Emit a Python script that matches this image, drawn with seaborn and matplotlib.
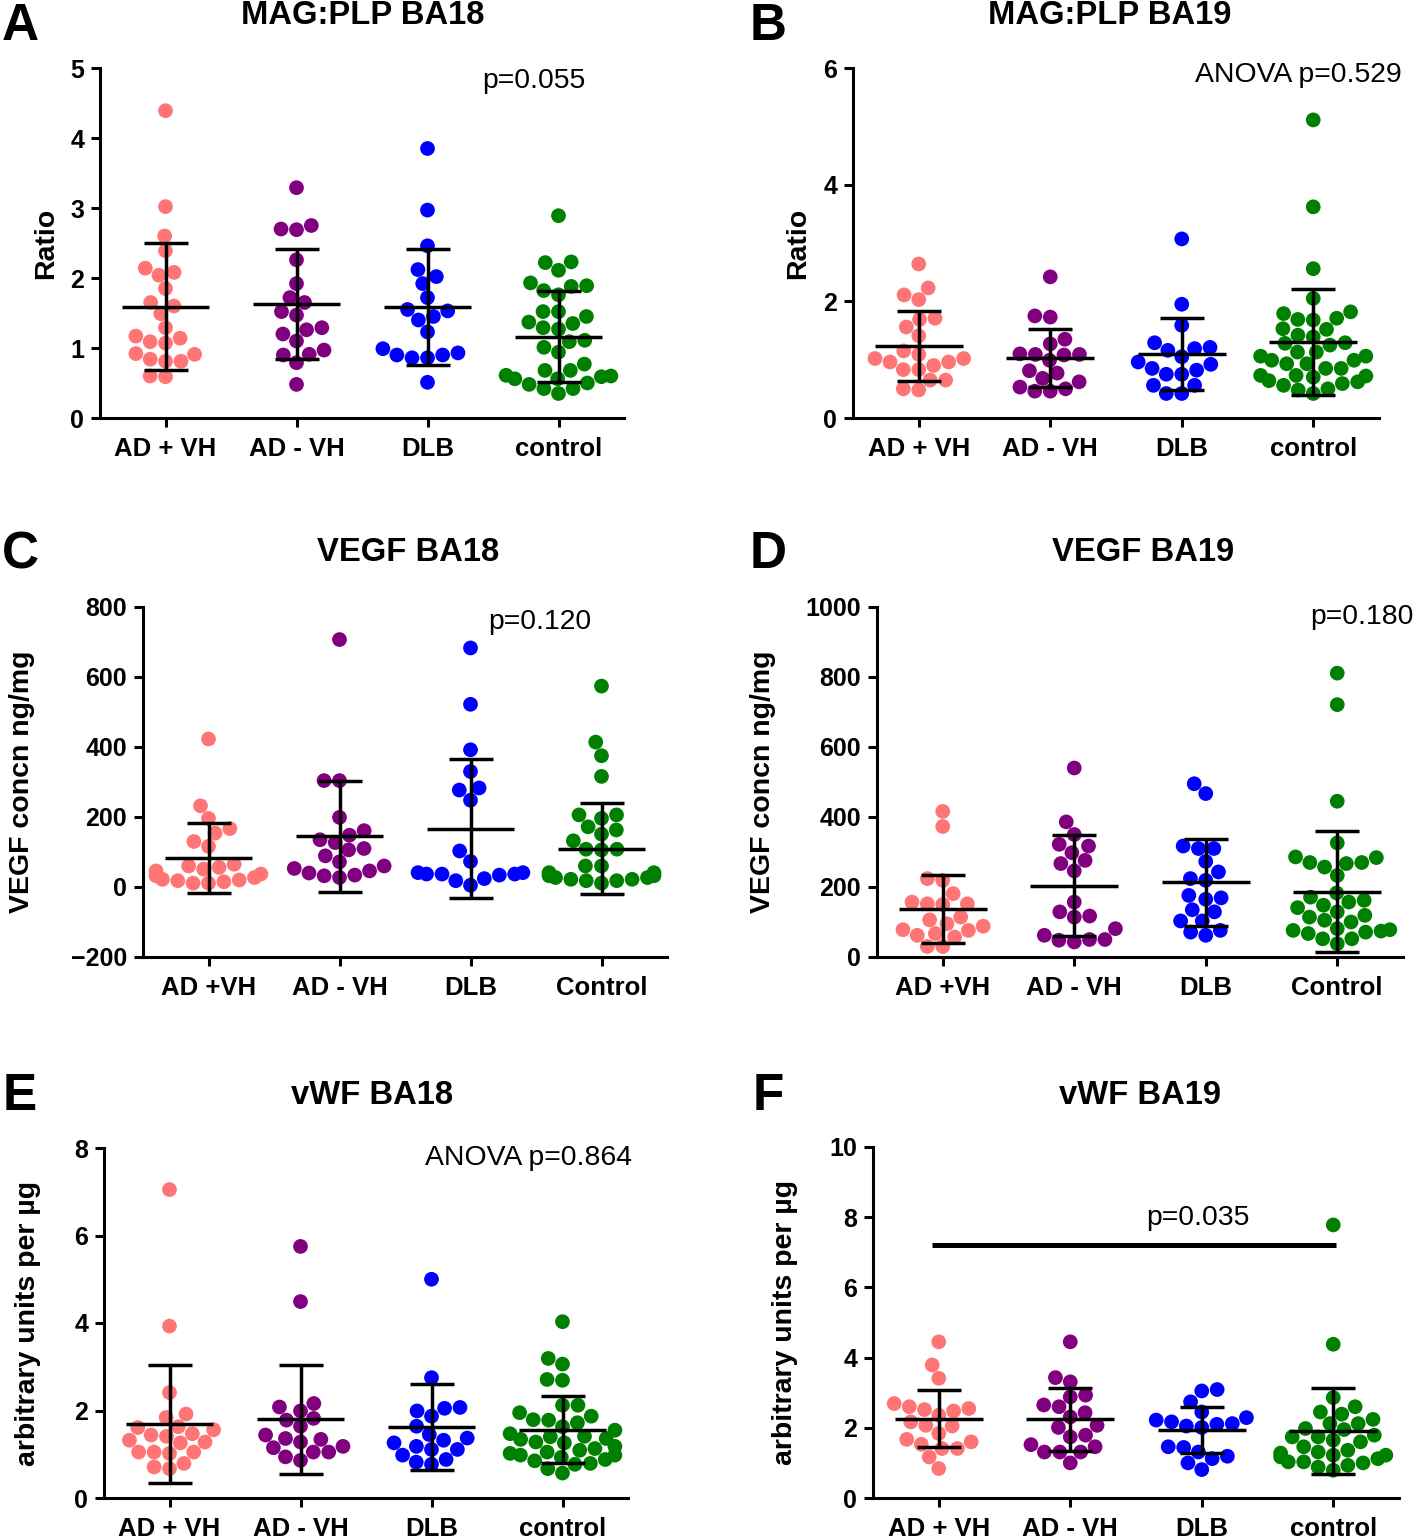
import warnings
import pandas as pd
import matplotlib
matplotlib.use("Agg")
import matplotlib.pyplot as plt
import seaborn as sns

warnings.filterwarnings("ignore")

W, H = 1418, 1539

COLORS = ["#FF7575", "#800080", "#0000FF", "#008000"]
LABELS_A = ["AD + VH", "AD - VH", "DLB", "control"]
LABELS_C = ["AD +VH", "AD - VH", "DLB", "Control"]

# A: MAG:PLP BA18
mag18_advh = [4.39, 3.02, 2.60, 2.39, 2.14, 2.04, 2.08, 1.85, 1.65, 1.60, 1.49, 1.29,
              1.17, 1.09, 1.07, 1.14, 0.92, 0.91, 0.84, 0.81, 0.81, 0.59, 0.60]
mag18_adnovh = [3.29, 2.75, 2.69, 2.70, 2.26, 1.92, 1.72, 1.65, 1.52, 1.47, 1.29, 1.26,
                1.20, 1.10, 0.97, 0.90, 0.91, 0.79, 0.48]
mag18_dlb = [3.85, 2.97, 2.46, 2.12, 2.02, 1.92, 1.72, 1.55, 1.53, 1.45, 1.40, 1.23,
             0.99, 0.90, 0.86, 0.86, 0.90, 0.93, 0.51]
mag18_ctrl = [2.89, 2.22, 2.23, 2.11, 1.93, 1.88, 1.89, 1.82, 1.76, 1.52, 1.52, 1.45,
              1.37, 1.35, 1.29, 1.27, 1.11, 1.09, 1.01, 0.94, 0.77, 0.68, 0.68, 0.61,
              0.60, 0.59, 0.56, 0.56, 0.50, 0.48, 0.42, 0.42, 0.35]
mag18_mean = [1.59, 1.625, 1.59, 1.16]
mag18_sd = [0.91, 0.785, 0.83, 0.65]

# B: MAG:PLP BA19
mag19_advh = [2.64, 2.23, 2.11, 2.03, 1.69, 1.71, 1.56, 1.41, 1.09, 1.15, 1.02, 1.02,
              0.96, 0.96, 0.90, 0.83, 0.83, 0.65, 0.65, 0.50, 0.48]
mag19_adnovh = [2.42, 1.75, 1.73, 1.35, 1.27, 1.09, 1.09, 1.10, 1.08, 0.99, 0.77, 0.81,
                0.68, 0.62, 0.53, 0.50, 0.46, 0.46]
mag19_dlb = [3.07, 1.95, 1.59, 1.29, 1.21, 1.19, 1.16, 1.05, 0.96, 0.92, 0.85, 0.82,
             0.75, 0.75, 0.56, 0.56, 0.42, 0.42]
mag19_ctrl = [5.11, 3.62, 2.56, 2.05, 1.79, 1.69, 1.68, 1.71, 1.82, 1.52, 1.53, 1.39,
              1.42, 1.28, 1.29, 1.25, 1.13, 1.13, 1.06, 1.06, 0.99, 0.99, 0.93, 0.93,
              0.85, 0.85, 0.73, 0.73, 0.72, 0.70, 0.64, 0.62, 0.59, 0.56, 0.50, 0.48, 0.42]
mag19_mean = [1.235, 1.03, 1.095, 1.31]
mag19_sd = [0.595, 0.50, 0.615, 0.91]

# C: VEGF BA18
vegf18_advh = [423, 232, 196, 167, 154, 130, 116, 60, 65, 51, 56, 37, 22, 18, 20, 32,
               11, 11, 46, 27, 15]
vegf18_adnovh = [707, 304, 304, 199, 161, 148, 135, 127, 110, 106, 89, 72, 60, 53, 46,
                 40, 34, 32, 27]
vegf18_dlb = [683, 522, 392, 330, 283, 277, 248, 103, 73, 41, 34, 41, 37, 37, 37, 24,
              5, 18]
vegf18_ctrl = [574, 414, 375, 316, 206, 206, 196, 172, 163, 151, 132, 106, 108, 108,
               60, 60, 41, 41, 37, 37, 32, 32, 22, 22, 18, 18, 11, 27, 27]
vegf18_mean = [83.5, 145.5, 167, 109.5]
vegf18_sd = [99.5, 158.5, 199, 130.5]

# D: VEGF BA19
vegf19_advh = [416, 373, 224, 219, 181, 157, 152, 152, 150, 114, 106, 95, 88, 78, 76,
               67, 62, 57, 30, 30]
vegf19_adnovh = [540, 386, 350, 322, 317, 298, 276, 267, 246, 157, 129, 117, 114, 81,
                 62, 50, 43, 48, 50]
vegf19_dlb = [495, 467, 317, 310, 310, 273, 243, 224, 219, 176, 169, 165, 135, 129,
              103, 103, 76, 71, 62]
vegf19_ctrl = [811, 721, 445, 326, 284, 270, 257, 267, 270, 286, 233, 183, 171, 157,
               162, 148, 141, 129, 119, 114, 105, 100, 81, 78, 76, 74, 71, 67, 52, 52, 38]
vegf19_mean = [138, 203.5, 213.5, 186.5]
vegf19_sd = [97, 144.5, 124.5, 172.5]

# E: vWF BA18
vwf18_advh = [7.05, 3.93, 2.41, 1.92, 1.84, 1.63, 1.61, 1.56, 1.47, 1.44, 1.41, 1.32,
              1.28, 1.26, 1.05, 1.05, 1.05, 1.02, 0.79, 0.71, 0.67]
vwf18_adnovh = [5.75, 4.49, 2.16, 2.08, 1.99, 1.78, 1.82, 1.64, 1.44, 1.36, 1.34, 1.28,
                1.18, 1.15, 1.05, 1.05, 0.94, 0.86]
vwf18_dlb = [5.00, 2.75, 2.05, 2.07, 1.99, 1.87, 1.64, 1.45, 1.37, 1.32, 1.26, 1.18,
             1.11, 1.11, 0.98, 0.88, 0.82, 0.77]
vwf18_ctrl = [4.03, 3.19, 3.06, 2.69, 2.71, 2.12, 2.12, 1.95, 1.87, 1.78, 1.79, 1.72,
              1.63, 1.55, 1.41, 1.40, 1.36, 1.34, 1.28, 1.26, 1.13, 1.05, 1.02, 0.98,
              0.98, 0.88, 0.85, 0.79, 0.77, 0.67, 0.57, 1.47, 1.18, 0.93, 1.09]
vwf18_mean = [1.695, 1.805, 1.625, 1.56]
vwf18_sd = [1.345, 1.245, 0.975, 0.77]

# F: vWF BA19
vwf19_advh = [4.45, 3.79, 3.41, 2.69, 2.60, 2.55, 2.52, 2.48, 2.36, 2.17, 2.05, 2.07,
              1.84, 1.67, 1.60, 1.53, 1.41, 1.41, 1.17, 0.84]
vwf19_adnovh = [4.45, 3.43, 3.31, 2.93, 2.88, 2.65, 2.60, 2.43, 2.31, 2.07, 2.01, 1.79,
                1.74, 1.52, 1.46, 1.31, 1.31, 1.31, 1.00]
vwf19_dlb = [3.05, 3.09, 2.74, 2.45, 2.29, 2.22, 2.12, 2.10, 2.05, 2.01, 1.44, 1.46,
             1.31, 1.19, 1.12, 1.00, 0.81, 2.17]
vwf19_ctrl = [7.78, 4.38, 2.86, 2.60, 2.45, 2.39, 2.24, 2.12, 2.12, 1.98, 1.95, 1.79,
              1.74, 1.74, 1.65, 1.60, 1.46, 1.36, 1.31, 1.28, 1.22, 1.22, 1.17, 1.12,
              1.03, 1.03, 1.00, 0.93, 0.88, 0.79]
vwf19_mean = [2.255, 2.24, 1.93, 1.895]
vwf19_sd = [0.815, 0.90, 0.65, 1.225]

sns.set_style("ticks")
plt.rcParams["font.family"] = ["Liberation Sans", "DejaVu Sans"]
plt.rcParams.update({"text.color": "black", "axes.labelcolor": "black",
                     "xtick.color": "black", "ytick.color": "black",
                     "axes.edgecolor": "black"})

fig = plt.figure(figsize=(W / 100, H / 100), dpi=100)


def fx(x):
    return x / W


def fy(y):
    return 1 - y / H


panels = [
    dict(letter="A", title="MAG:PLP BA18", ylabel="Ratio", labels=LABELS_A,
         groups=[mag18_advh, mag18_adnovh, mag18_dlb, mag18_ctrl],
         mean=mag18_mean, sd=mag18_sd, ylim=(0, 5), yticks=range(0, 6),
         box=(100, 68, 624, 418), title_xy=(363, 15), letter_xy=(20, 27), ylab_x=46,
         note="p=0.055", note_xy=(2.81, 4.81)),
    dict(letter="B", title="MAG:PLP BA19", ylabel="Ratio", labels=LABELS_A,
         groups=[mag19_advh, mag19_adnovh, mag19_dlb, mag19_ctrl],
         mean=mag19_mean, sd=mag19_sd, ylim=(0, 6), yticks=range(0, 7, 2),
         box=(853, 68, 1379, 418), title_xy=(1110, 15), letter_xy=(768, 27), ylab_x=798,
         note="ANOVA p=0.529", note_xy=(2.89, 5.88)),
    dict(letter="C", title="VEGF BA18", ylabel="VEGF concn ng/mg", labels=LABELS_C,
         groups=[vegf18_advh, vegf18_adnovh, vegf18_dlb, vegf18_ctrl],
         mean=vegf18_mean, sd=vegf18_sd, ylim=(-200, 800), yticks=range(-200, 801, 200),
         box=(143, 607, 667, 957), title_xy=(408, 553), letter_xy=(20, 555), ylab_x=22,
         note="p=0.120", note_xy=(2.53, 757)),
    dict(letter="D", title="VEGF BA19", ylabel="VEGF concn ng/mg", labels=LABELS_C,
         groups=[vegf19_advh, vegf19_adnovh, vegf19_dlb, vegf19_ctrl],
         mean=vegf19_mean, sd=vegf19_sd, ylim=(0, 1000), yticks=range(0, 1001, 200),
         box=(877, 607, 1403, 957), title_xy=(1143, 553), letter_xy=(768, 555), ylab_x=763,
         note="p=0.180", note_xy=(3.19, 971)),
    dict(letter="E", title="vWF BA18", ylabel="arbitrary units per µg", labels=LABELS_A,
         groups=[vwf18_advh, vwf18_adnovh, vwf18_dlb, vwf18_ctrl],
         mean=vwf18_mean, sd=vwf18_sd, ylim=(0, 8), yticks=range(0, 9, 2),
         box=(104, 1148, 628, 1498), title_xy=(372, 1095), letter_xy=(20, 1097), ylab_x=28,
         note="ANOVA p=0.864", note_xy=(2.74, 7.77)),
    dict(letter="F", title="vWF BA19", ylabel="arbitrary units per µg", labels=LABELS_A,
         groups=[vwf19_advh, vwf19_adnovh, vwf19_dlb, vwf19_ctrl],
         mean=vwf19_mean, sd=vwf19_sd, ylim=(0, 10), yticks=range(0, 11, 2),
         box=(873, 1147, 1399, 1498), title_xy=(1140, 1095), letter_xy=(768, 1097), ylab_x=785,
         note="p=0.035", note_xy=(1.97, 7.97)),
]

for p in panels:
    x0, y0, x1, y1 = p["box"]
    ax = fig.add_axes([fx(x0), fy(y1), fx(x1 - x0), (y1 - y0) / H])

    rows = []
    for lab, vals in zip(p["labels"], p["groups"]):
        rows += [(lab, v) for v in vals]
    df = pd.DataFrame(rows, columns=["group", "value"])

    sns.swarmplot(data=df, x="group", y="value", hue="group", order=p["labels"],
                  hue_order=p["labels"], palette=COLORS, size=10.6, linewidth=0,
                  legend=False, ax=ax, zorder=2)

    xs = list(range(4))
    ax.errorbar(xs, p["mean"], yerr=p["sd"], fmt="none", ecolor="black",
                elinewidth=2.5, capsize=15.5, capthick=2.5, zorder=3)
    ax.hlines(p["mean"], [x - 0.334 for x in xs], [x + 0.334 for x in xs],
              color="black", lw=2.5, zorder=3)

    ax.set_xlim(-0.5, 3.5)
    ax.set_ylim(*p["ylim"])
    ax.set_yticks(list(p["yticks"]))
    ax.set_xlabel("")
    ax.set_ylabel("")
    sns.despine(ax=ax)
    for s in ["left", "bottom"]:
        ax.spines[s].set_linewidth(2.2)
    ax.tick_params(axis="both", width=2.2, length=6.5, labelsize=18.5)
    ax.tick_params(axis="x", pad=7)
    ax.tick_params(axis="y", pad=5, labelsize=18)
    for t in ax.get_xticklabels() + ax.get_yticklabels():
        t.set_fontweight("bold")

    ax.text(p["note_xy"][0], p["note_xy"][1], p["note"], ha="center", va="center",
            fontsize=20.4, clip_on=False)
    if p["letter"] == "F":
        ax.plot([-0.05, 3.02], [7.2, 7.2], color="black", lw=3.6, solid_capstyle="butt")

    fig.text(fx(p["title_xy"][0]), fy(p["title_xy"][1]), p["title"], ha="center",
             va="center", fontsize=23.6, fontweight="bold")
    fig.text(fx(p["letter_xy"][0]), fy(p["letter_xy"][1]), p["letter"], ha="center",
             va="center", fontsize=37, fontweight="bold")
    fig.text(fx(p["ylab_x"]), fy((y0 + y1) / 2), p["ylabel"], ha="center", va="center",
             rotation=90, fontsize=20.5, fontweight="bold")

fig.savefig("out.png", dpi=100)
